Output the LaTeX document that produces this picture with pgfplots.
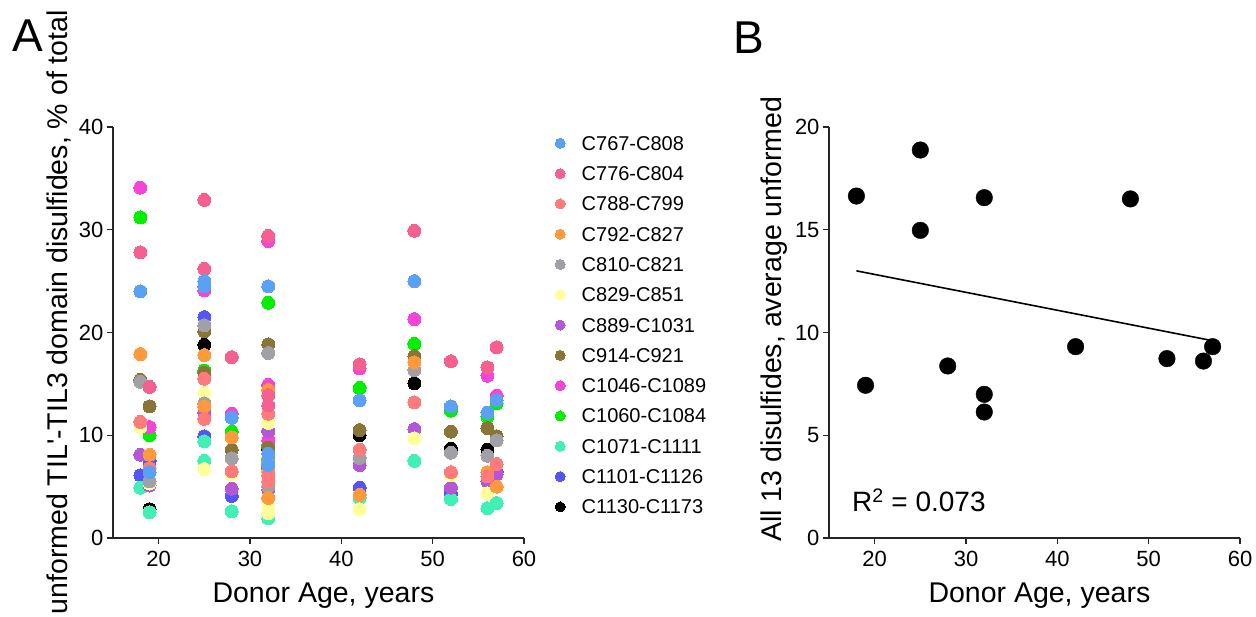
\documentclass[border=0pt]{standalone}
\usepackage{fontspec}
\setmainfont{Liberation Sans}
\newfontfamily\plainfont{Liberation Sans}
\usepackage{pgfplots}
\pgfplotsset{compat=1.18}

\definecolor{cA}{HTML}{5AA0F5}
\definecolor{cB}{HTML}{F5608F}
\definecolor{cC}{HTML}{FF7B7B}
\definecolor{cD}{HTML}{FF9A3C}
\definecolor{cE}{HTML}{A0A0A6}
\definecolor{cF}{HTML}{FFFF99}
\definecolor{cG}{HTML}{B456D6}
\definecolor{cH}{HTML}{8B7536}
\definecolor{cI}{HTML}{F545D8}
\definecolor{cJ}{HTML}{00F000}
\definecolor{cK}{HTML}{40F0B4}
\definecolor{cL}{HTML}{5555F5}
\definecolor{cM}{HTML}{000000}

\pgfplotsset{
  prism/.style={
    scale only axis, width=411pt, height=411pt,
    axis lines=left, axis line style={-, line width=1.2pt, black!85},
    tick align=outside, major tick length=6pt,
    tick style={line width=1.2pt, black!85},
    xmin=15, xmax=60, xtick={20,30,40,50,60},
    ymin=0, clip=false,
    /pgf/number format/assume math mode=true,
    tick label style={font=\fontsize{22}{24}\selectfont},
    xticklabel style={yshift=-4pt},
    label style={font=\fontsize{28.5}{30}\selectfont},
    xlabel={Donor Age, years},
    xlabel style={at={(axis description cs:0.512,-0.158)}, anchor=base, inner sep=0pt},
  },
  dot/.style={only marks, mark=*, mark size=6.5pt, color=#1, mark options={line width=0pt}},
}

\begin{document}
\begin{tikzpicture}[x=1pt,y=1pt]
\useasboundingbox (0,0) rectangle (1256,617);
\node[anchor=base west, inner sep=0pt, font=\fontsize{46}{50}\selectfont] at (12,565) {A};
\node[anchor=base west, inner sep=0pt, font=\fontsize{46}{50}\selectfont] at (733,563) {B};

\begin{axis}[prism, at={(113pt,79pt)}, anchor=south west,
  ymax=40, ytick={0,10,20,30,40},
  ylabel={unformed TIL{\plainfont '}-TIL3 domain disulfides, \% of total},
  ylabel style={at={(axis description cs:-0.1095,1.2847)}, anchor=base east, inner sep=0pt},
  reverse legend, legend cell align=left,
  legend image code/.code={\draw[#1, mark size=5pt] plot coordinates {(0pt,0pt)};},
  legend style={draw=none, fill=none, inner sep=0pt,
    at={(axis description cs:1.0754,0.978)}, anchor=north west,
    font=\fontsize{20}{20}\selectfont, row sep=16.3pt,
    nodes={inner sep=0pt, text height=14pt, text depth=0pt},
    /tikz/every odd column/.append style={column sep=16.5pt}},
]
% drawn in reverse order so that earlier series lie on top
\addplot[dot=cM] coordinates {(19,2.8) (25,18.8) (32,8.6) (42,10.0) (48,15.05) (52,8.7) (56,8.6)};
\addlegendentry{C1130-C1173}
\addplot[dot=cL] coordinates {(18,6.1) (19,7.5) (25,21.5) (25,9.9) (28,4.1) (42,4.9) (52,4.3) (57,6.45)};
\addlegendentry{C1101-C1126}
\addplot[dot=cK] coordinates {(18,4.9) (19,2.5) (25,9.4) (25,7.5) (28,2.6) (32,1.9) (42,3.9) (48,7.5) (52,3.8) (56,2.9) (57,3.4)};
\addlegendentry{C1071-C1111}
\addplot[dot=cJ] coordinates {(18,31.2) (19,10.0) (25,16.3) (28,10.35) (32,22.9) (32,9.05) (32,7.7) (42,14.6) (48,18.9) (52,12.4) (56,11.8) (57,13.1)};
\addlegendentry{C1060-C1084}
\addplot[dot=cI] coordinates {(18,34.1) (19,10.8) (25,24.1) (28,12.1) (32,28.9) (32,14.9) (32,9.5) (42,16.5) (48,21.3) (56,15.8) (57,13.85)};
\addlegendentry{C1046-C1089}
\addplot[dot=cH] coordinates {(18,15.4) (19,12.8) (25,20.1) (25,16.1) (28,8.6) (32,18.85) (32,8.8) (32,6.8) (42,10.5) (48,17.7) (52,10.35) (56,10.7) (57,9.9)};
\addlegendentry{C914-C921}
\addplot[dot=cG] coordinates {(18,8.1) (19,5.1) (25,12.2) (28,4.8) (32,10.4) (32,4.7) (42,7.1) (48,10.6) (52,4.9) (56,5.5) (57,6.2)};
\addlegendentry{C889-C1031}
\addplot[dot=cF] coordinates {(18,10.8) (19,5.3) (25,14.1) (25,6.7) (28,6.2) (32,11.2) (32,3.05) (32,2.4) (42,2.8) (48,9.7) (52,6.1) (56,4.35)};
\addlegendentry{C829-C851}
\addplot[dot=cE] coordinates {(18,15.2) (19,5.5) (25,20.7) (25,13.1) (28,7.75) (32,18.0) (32,7.4) (32,5.0) (42,7.8) (48,16.35) (52,8.3) (56,8.0) (57,9.5)};
\addlegendentry{C810-C821}
\addplot[dot=cD] coordinates {(18,17.9) (19,8.1) (25,17.8) (25,12.8) (28,9.8) (32,14.4) (32,6.5) (32,3.9) (42,4.2) (48,17.1) (56,6.4) (57,5.0)};
\addlegendentry{C792-C827}
\addplot[dot=cC] coordinates {(18,11.3) (19,6.8) (25,15.5) (25,11.6) (28,6.5) (32,12.1) (32,6.1) (32,5.5) (42,8.6) (48,13.2) (52,6.4) (56,6.0) (57,7.2)};
\addlegendentry{C788-C799}
\addplot[dot=cB] coordinates {(18,27.8) (19,14.7) (25,32.9) (25,26.2) (28,17.6) (32,29.4) (32,13.9) (32,12.9) (42,16.9) (48,29.9) (52,17.2) (56,16.6) (57,18.55)};
\addlegendentry{C776-C804}
\addplot[dot=cA] coordinates {(18,24.0) (19,6.4) (25,25.0) (25,24.5) (28,11.7) (32,24.5) (32,8.2) (32,7.1) (42,13.4) (48,25.0) (52,12.8) (56,12.2) (57,13.4)};
\addlegendentry{C767-C808}
\end{axis}

\begin{axis}[prism, at={(829pt,79pt)}, anchor=south west,
  ymax=20, ytick={0,5,10,15,20},
  ylabel={All 13 disulfides, average unformed},
  ylabel style={at={(axis description cs:-0.1144,-0.0097)}, anchor=base west, inner sep=0pt},
]
\addplot[black, line width=1.6pt, no marks] coordinates {(18,13.0) (57,9.6)};
\addplot[only marks, mark=*, mark size=8.3pt, black] coordinates {
  (18,16.64) (19,7.43) (25,18.88) (25,14.97) (28,8.37) (32,16.56) (32,6.99) (32,6.13)
  (42,9.31) (48,16.5) (52,8.73) (56,8.61) (57,9.31)};
\node[anchor=base west, inner sep=0pt, font=\fontsize{28}{30}\selectfont] at (axis cs:17.5,1.31) {R\textsuperscript{2} = 0.073};
\end{axis}
\end{tikzpicture}
\end{document}
